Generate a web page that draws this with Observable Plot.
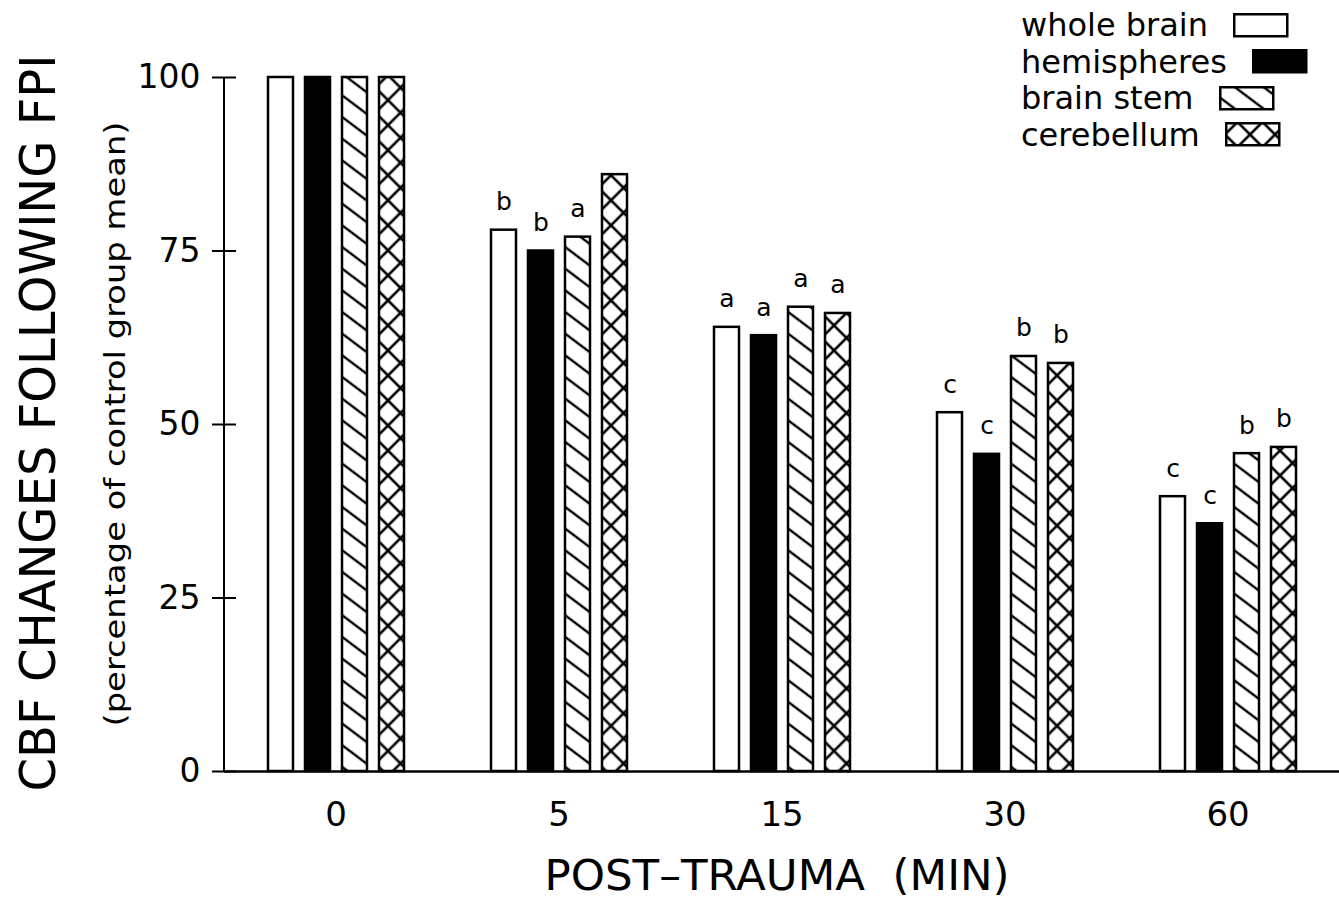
<!DOCTYPE html>
<html>
<head>
<meta charset="utf-8">
<script src="https://cdn.jsdelivr.net/npm/d3@7"></script>
<script src="https://cdn.jsdelivr.net/npm/@observablehq/plot@0.6"></script>
<style>
  html, body { margin: 0; padding: 0; background: white; }
  #wrap { position: relative; width: 1339px; height: 901px; overflow: hidden; font-family: "DejaVu Sans", sans-serif; }
  #legend { position: absolute; left: 1021px; top: 7px; }
  .row { display: flex; align-items: center; height: 36.5px; font-size: 32px; color: black; }
  .row svg { margin-left: 25px; }
</style>
</head>
<body>
<svg width="0" height="0" style="position:absolute">
  <defs>
    <pattern id="diag" patternUnits="userSpaceOnUse" width="40" height="17.3" patternTransform="rotate(37)">
      <rect width="40" height="17.3" fill="white"/>
      <line x1="0" y1="8.65" x2="40" y2="8.65" stroke="black" stroke-width="2.6"/>
    </pattern>
    <pattern id="cross" patternUnits="userSpaceOnUse" width="17.7" height="17.7" patternTransform="rotate(45)">
      <rect width="17.7" height="17.7" fill="white"/>
      <line x1="0" y1="8.85" x2="17.7" y2="8.85" stroke="black" stroke-width="2.6"/>
      <line x1="8.85" y1="0" x2="8.85" y2="17.7" stroke="black" stroke-width="2.6"/>
    </pattern>
  </defs>
</svg>
<div id="wrap"></div>
<script>
const times = ["0", "5", "15", "30", "60"];
const regions = ["whole brain", "hemispheres", "brain stem", "cerebellum"];
const wholeBrain  = [100, 78, 64, 51.7, 39.6];
const hemispheres = [100, 75, 62.8, 45.7, 35.7];
const brainStem   = [100, 77, 66.9, 59.8, 45.8];
const cerebellum  = [100, 86, 66, 58.8, 46.7];
const sigWhole = ["", "b", "a", "c", "c"];
const sigHemi  = ["", "b", "a", "c", "c"];
const sigStem  = ["", "a", "a", "b", "b"];
const sigCereb = ["", "", "a", "b", "b"];
const yTicks = [0, 25, 50, 75, 100];
const fills = ["white", "black", "url(#diag)", "url(#cross)"];

const seriesValues = [wholeBrain, hemispheres, brainStem, cerebellum];
const seriesSig = [sigWhole, sigHemi, sigStem, sigCereb];
const rows = [];
times.forEach((t, i) => regions.forEach((r, j) => {
  rows.push({time: t, region: r, value: seriesValues[j][i], sig: seriesSig[j][i]});
}));

const chart = Plot.plot({
  width: 1339,
  height: 901,
  marginLeft: 224,
  marginRight: 0,
  marginTop: 77,
  marginBottom: 130,
  style: {fontFamily: "DejaVu Sans", fontSize: "33px", color: "black", background: "white", overflow: "visible"},
  fx: {domain: times, paddingInner: 0, paddingOuter: 0, label: null, axis: null},
  x: {domain: regions, paddingInner: 0.33, paddingOuter: 1.15, axis: null},
  y: {domain: [0, 100], label: null},
  color: {domain: regions, range: fills},
  marks: [
    Plot.barY(rows, {fx: "time", x: "region", y: "value", fill: "region", stroke: "black", strokeWidth: 2.5}),
    Plot.text(rows.filter(d => d.sig), {fx: "time", x: "region", y: "value", text: "sig", dy: -20, lineAnchor: "bottom", fontSize: 25}),
    Plot.ruleY([0], {strokeWidth: 2.5}),
    Plot.axisY({ticks: yTicks, tickSize: 12, tickPadding: 12, strokeWidth: 2, fontSize: 33, label: null}),
    Plot.axisY({ticks: yTicks, tickSize: -12, tickFormat: () => "", strokeWidth: 2, label: null}),
    Plot.axisFx({anchor: "bottom", tickSize: 0, tickPadding: 30, fontSize: 34, label: null})
  ]
});

const wrap = document.getElementById("wrap");
wrap.appendChild(chart);

const svg = d3.select(chart);
// y-axis domain line from the plot's own scales
const fxScale = chart.scale("fx");
const yScale = chart.scale("y");
svg.append("line")
  .attr("x1", fxScale.range[0]).attr("x2", fxScale.range[0])
  .attr("y1", yScale.apply(0)).attr("y2", yScale.apply(100))
  .attr("stroke", "black").attr("stroke-width", 2);

svg.append("text")
  .attr("transform", "translate(55,423) rotate(-90)")
  .attr("text-anchor", "middle")
  .attr("font-size", 50)
  .attr("textLength", 737)
  .attr("lengthAdjust", "spacingAndGlyphs")
  .attr("fill", "black")
  .text("CBF CHANGES FOLLOWING FPI");
svg.append("text")
  .attr("transform", "translate(125,424) rotate(-90)")
  .attr("text-anchor", "middle")
  .attr("font-size", 29)
  .attr("textLength", 605)
  .attr("lengthAdjust", "spacingAndGlyphs")
  .attr("fill", "black")
  .text("(percentage of control group mean)");
svg.append("text")
  .attr("x", 777)
  .attr("y", 890)
  .attr("text-anchor", "middle")
  .attr("font-size", 43)
  .attr("textLength", 465)
  .attr("lengthAdjust", "spacingAndGlyphs")
  .attr("fill", "black")
  .style("white-space", "pre")
  .text("POST\u2013TRAUMA  (MIN)");

// legend
const legend = d3.select(wrap).append("div").attr("id", "legend");
regions.forEach((r, j) => {
  const row = legend.append("div").attr("class", "row");
  row.append("span").text(r);
  const s = row.append("svg").attr("width", 56).attr("height", 25);
  s.append("rect").attr("x", 1.25).attr("y", 1.25).attr("width", 53).attr("height", 22)
    .attr("fill", fills[j]).attr("stroke", "black").attr("stroke-width", 2.5);
});
</script>
</body>
</html>
